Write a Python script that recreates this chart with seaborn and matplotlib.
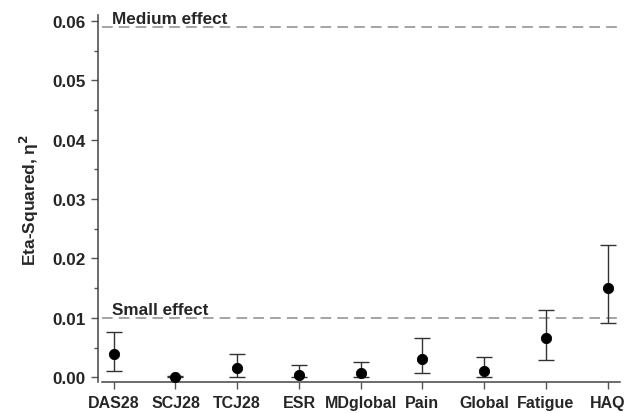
import matplotlib
matplotlib.use("Agg")
import matplotlib.pyplot as plt
import seaborn as sns
import pandas as pd
from matplotlib.ticker import MultipleLocator

# Valeurs
measures = ['DAS28', 'SCJ28', 'TCJ28', 'ESR', 'MDglobal', 'Pain', 'Global', 'Fatigue', 'HAQ']
eta_sq = [0.0039, 0.0001, 0.0015, 0.0004, 0.0007, 0.0030, 0.0011, 0.0066, 0.0150]
ci_low = [0.0011, 0.0000, 0.0001, 0.0000, 0.0000, 0.0007, 0.0001, 0.0029, 0.0091]
ci_high = [0.0077, 0.0002, 0.0039, 0.0020, 0.0026, 0.0066, 0.0034, 0.0114, 0.0222]
thresholds = [0.01, 0.059]
threshold_labels = ['Small effect', 'Medium effect']
ytick_vals = [0, 0.01, 0.02, 0.03, 0.04, 0.05, 0.06]

df = pd.DataFrame({'measure': measures, 'eta': eta_sq, 'low': ci_low, 'high': ci_high})
df['pos'] = range(len(df))

sns.set_style('ticks')
plt.rcParams['font.family'] = ['Liberation Sans', 'DejaVu Sans']
plt.rcParams['font.weight'] = 'bold'
plt.rcParams['mathtext.default'] = 'bf'

fig = plt.figure(figsize=(6.27, 4.14), dpi=100)
ax = fig.add_axes([102 / 627, 1 - 383 / 414, 518 / 627, 367 / 414])

# Lignes de seuil
for y, lab in zip(thresholds, threshold_labels):
    ax.axhline(y, color='#8c8c8c', lw=1.1, ls=(0, (7, 4)), zorder=1)
    ax.text(-0.03, y + 0.0002, lab, fontsize=12.3, fontweight='bold', va='bottom', ha='left')

# Barres d'erreur asymétriques
ax.errorbar(df['pos'], df['eta'],
            yerr=[df['eta'] - df['low'], df['high'] - df['eta']],
            fmt='none', ecolor='#333333', elinewidth=1.0, capsize=6, capthick=1.0, zorder=2)
sns.scatterplot(data=df, x='pos', y='eta', color='black', s=55, edgecolor='black', ax=ax, zorder=3)

ax.set_xlim(-0.19, 8.2)
ax.set_ylim(-0.0008, 0.061)
ax.tick_params(axis='both', which='major', length=5, width=1, color='#555555')
ax.tick_params(axis='y', which='minor', length=3, width=1, color='#555555')
ax.tick_params(axis='x', labelsize=11.5, pad=4.5)
ax.tick_params(axis='y', labelsize=12.3, pad=4)
ax.set_xticks(df['pos'])
ax.set_xticklabels(measures, fontweight='bold')
ax.yaxis.set_minor_locator(MultipleLocator(0.005))
ax.set_yticks(ytick_vals)
ax.set_yticklabels([f'{v:.2f}' for v in ytick_vals], fontweight='bold')
ax.set_xlabel('')
ax.set_ylabel('Eta-Squared, η$^{2}$', fontsize=12.5, fontweight='bold', labelpad=8)

sns.despine(ax=ax)
ax.spines['left'].set_position(('outward', 3))
for s in ['left', 'bottom']:
    ax.spines[s].set_color('#444444')
    ax.spines[s].set_linewidth(1.1)

fig.savefig('out.png', dpi=100)
